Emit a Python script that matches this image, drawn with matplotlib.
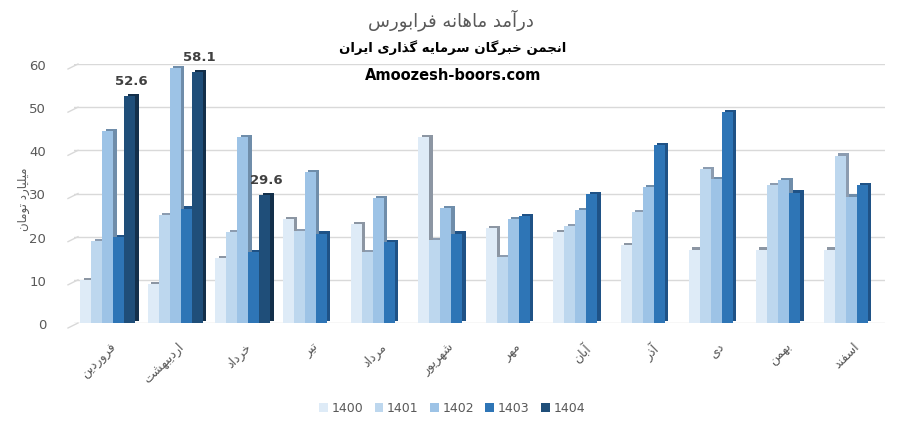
import numpy as np
import matplotlib
matplotlib.use("Agg")
import matplotlib.pyplot as plt

# ---------------- data ----------------
months = ["فروردین", "اردیبهشت", "خرداد", "تیر", "مرداد", "شهریور",
          "مهر", "آبان", "آذر", "دی", "بهمن", "اسفند"]
series_names = ["1400", "1401", "1402", "1403", "1404"]
y1400 = [10, 9, 15, 24, 23, 43, 22, 21, 18, 17, 17, 17]
y1401 = [19, 25, 21, 21.3, 16.5, 19.3, 15.3, 22.5, 25.6, 35.7, 32, 38.8]
y1402 = [44.5, 59, 43, 35, 29, 26.7, 24, 26.2, 31.5, 33.3, 33.2, 29.3]
y1403 = [20, 26.5, 16.4, 20.7, 18.7, 20.7, 24.8, 29.8, 41.3, 48.8, 30.2, 32]
y1404 = [52.6, 58.1, 29.6, None, None, None, None, None, None, None, None, None]
yticks = [0, 10, 20, 30, 40, 50, 60]
title_txt = "درآمد ماهانه فرابورس"
subtitle_txt = "انجمن خبرگان سرمایه گذاری ایران"
site_txt = "Amoozesh-boors.com"
ylabel_txt = "میلیارد تومان"

colors = ["#DEEBF7", "#BDD7EE", "#9DC3E6", "#2E75B6", "#1F4E79"]
side_colors = ["#8C96A3", "#8C9CB0", "#6F8DAA", "#1F5286", "#132F4A"]

# ------------- minimal Persian shaping -------------
_F = {
    'ا': ('\uFE8D', '\uFE8E'), 'آ': ('\uFE81', '\uFE82'),
    'ب': ('\uFE8F', '\uFE90', '\uFE91', '\uFE92'),
    'پ': ('\uFB56', '\uFB57', '\uFB58', '\uFB59'),
    'ت': ('\uFE95', '\uFE96', '\uFE97', '\uFE98'),
    'ج': ('\uFE9D', '\uFE9E', '\uFE9F', '\uFEA0'),
    'خ': ('\uFEA5', '\uFEA6', '\uFEA7', '\uFEA8'),
    'د': ('\uFEA9', '\uFEAA'), 'ذ': ('\uFEAB', '\uFEAC'),
    'ر': ('\uFEAD', '\uFEAE'), 'ز': ('\uFEAF', '\uFEB0'),
    'س': ('\uFEB1', '\uFEB2', '\uFEB3', '\uFEB4'),
    'ش': ('\uFEB5', '\uFEB6', '\uFEB7', '\uFEB8'),
    'ف': ('\uFED1', '\uFED2', '\uFED3', '\uFED4'),
    'ق': ('\uFED5', '\uFED6', '\uFED7', '\uFED8'),
    'ک': ('\uFB8E', '\uFB8F', '\uFB90', '\uFB91'),
    'گ': ('\uFB92', '\uFB93', '\uFB94', '\uFB95'),
    'ل': ('\uFEDD', '\uFEDE', '\uFEDF', '\uFEE0'),
    'م': ('\uFEE1', '\uFEE2', '\uFEE3', '\uFEE4'),
    'ن': ('\uFEE5', '\uFEE6', '\uFEE7', '\uFEE8'),
    'ه': ('\uFEE9', '\uFEEA', '\uFEEB', '\uFEEC'),
    'و': ('\uFEED', '\uFEEE'),
    'ی': ('\uFBFC', '\uFBFD', '\uFBFE', '\uFBFF'),
}


def fa(s):
    out = []
    n = len(s)
    for i, c in enumerate(s):
        if c not in _F:
            out.append(c)
            continue
        f = _F[c]
        prev = s[i - 1] if i > 0 else None
        nxt = s[i + 1] if i < n - 1 else None
        jp = prev in _F and len(_F[prev]) == 4
        jn = len(f) == 4 and nxt in _F
        if jp and jn:
            out.append(f[3])
        elif jp:
            out.append(f[1])
        elif jn:
            out.append(f[2])
        else:
            out.append(f[0])
    return "".join(reversed(out))


plt.rcParams['font.family'] = ['DejaVu Sans']

fig = plt.figure(figsize=(9.01, 4.31), dpi=100)
ax = fig.add_axes([74 / 901, 1 - 324 / 431, (885 - 74) / 901, (324 - 65) / 431])

x = np.arange(len(months))
w = 0.163
dx = 0.05
dy = 0.5
data = [y1400, y1401, y1402, y1403, y1404]
for k, vals in enumerate(data):
    v = np.array([np.nan if a is None else a for a in vals], dtype=float)
    pos = x + (k - 2) * w
    m = ~np.isnan(v)
    ax.bar(pos[m] + dx, v[m], bottom=dy, width=w, color=side_colors[k],
           linewidth=0, zorder=3 + 2 * k, align='center')
    ax.bar(pos[m], v[m], width=w, color=colors[k], linewidth=0,
           zorder=4 + 2 * k, label=series_names[k])
    if k == 4:
        for px, pv in zip(pos[m], v[m]):
            ax.annotate(f"{pv:.1f}", (px + dx / 2, pv), xytext=(0, 11),
                        textcoords='offset points', ha='center', va='center',
                        fontsize=9.5, fontweight='bold', color='#404040',
                        zorder=20)

ax.set_xlim(-0.5, len(months) - 0.5)
ax.set_ylim(0, 60)
ax.set_yticks(yticks)
ax.set_yticklabels([str(t) for t in yticks])
ax.yaxis.grid(True, color='#D9D9D9', linewidth=1.0)
ax.set_axisbelow(True)
# slanted floor edges at the left of each gridline (pseudo-3D)
for t in yticks:
    ax.plot([-0.5 - 6 / 67.5, -0.5 + 4 / 67.5], [t - 5 / 4.32, t],
            color='#D9D9D9', linewidth=1.0, clip_on=False, zorder=1)
for s in ax.spines.values():
    s.set_visible(False)
ax.tick_params(axis='y', length=0, pad=20, labelsize=9.5, labelcolor='#595959')
ax.set_xticks(x + 0.03)
ax.set_xticklabels([fa(mn) for mn in months], rotation=45, ha='right',
                   va='top', rotation_mode='anchor', fontsize=9,
                   color='#595959')
ax.tick_params(axis='x', length=0, pad=12)

fig.text(0.5, 1 - 20 / 431, fa(title_txt), ha='center', va='center',
         fontsize=13, color='#595959')
fig.text(453 / 901, 1 - 48 / 431, fa(subtitle_txt), ha='center', va='center',
         fontsize=9.5, fontweight='bold', color='black')
fig.text(453 / 901, 1 - 75 / 431, site_txt, ha='center', va='center',
         fontsize=10.5, fontweight='bold', color='black')
fig.text(24 / 901, 1 - 199 / 431, fa(ylabel_txt), ha='center', va='center',
         rotation=90, fontsize=8.5, color='#595959')

leg = fig.legend(loc='center', bbox_to_anchor=(452 / 901, 1 - 409 / 431),
                 ncol=5, frameon=False, fontsize=9, handlelength=0.7,
                 handleheight=0.7, handletextpad=0.3, columnspacing=0.9,
                 labelcolor='#595959')

fig.savefig("out.png", dpi=100)
